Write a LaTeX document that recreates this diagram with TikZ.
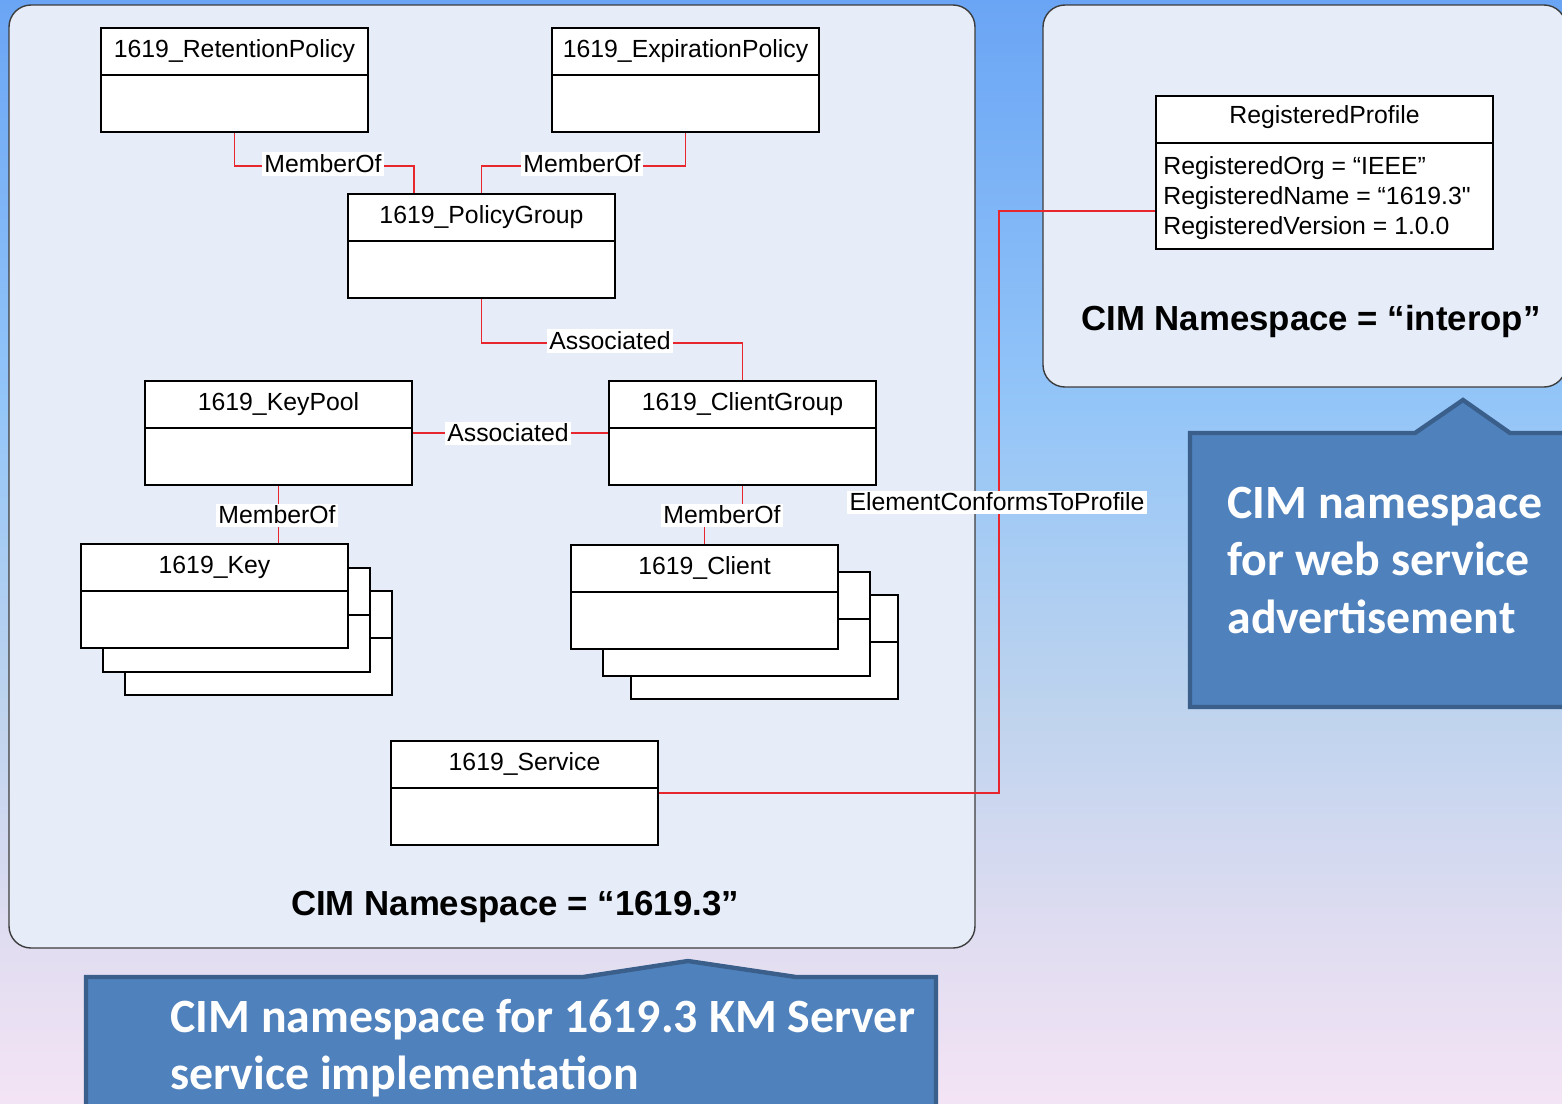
\documentclass[tikz,border=0pt]{standalone}
\usepackage{fontspec}
\setmainfont{Liberation Sans}[Ligatures=TeXOff]
\newfontfamily\callfont{Carlito}
\usetikzlibrary{calc}
\definecolor{bgA}{HTML}{6AA5F5}
\definecolor{bgB}{HTML}{93C5F8}
\definecolor{bgC}{HTML}{BDD3EE}
\definecolor{bgD}{HTML}{E2DDF1}
\definecolor{bgE}{HTML}{F4E4F5}
\definecolor{panelfill}{HTML}{E6EDF8}
\definecolor{panelline}{HTML}{3C3C3C}
\definecolor{callfill}{HTML}{4F81BD}
\definecolor{callline}{HTML}{3A5F8B}
\definecolor{linered}{HTML}{E8262E}
\tikzset{
 cls/.style={draw=black, line width=1pt, fill=white, inner sep=0pt, anchor=north west, minimum width=133.5pt, minimum height=52pt},
 ctitle/.style={font=\fontsize{12.4}{15}\selectfont, inner sep=0pt},
 attr/.style={font=\fontsize{12.4}{15}\selectfont, inner sep=0pt, anchor=base west},
 conn/.style={draw=linered, line width=0.6pt},
 lbl/.style={fill=white, inner sep=1.2pt, font=\fontsize{12.4}{15}\selectfont},
 panel/.style={fill=panelfill, draw=panelline, line width=0.7pt, rounded corners=11pt},
 callout/.style={fill=callfill, draw=callline, line width=2.2pt, line join=miter},
 calltext/.style={text=white, font=\callfont\bfseries\fontsize{23.9}{28.75}\selectfont, inner sep=0pt, anchor=base west},
 nstitle/.style={font=\bfseries\fontsize{17.4}{20}\selectfont, inner sep=0pt, anchor=base},
}
\newcommand\umlbox[4]{%
 \node[cls] (#1) at (#2,#3) {};
 \draw[line width=1pt] ([yshift=-24pt]#1.north west) -- ([yshift=-24pt]#1.north east);
 \node[ctitle] (#1-t) at ([yshift=-12pt]#1.north) {#4};
}
\begin{document}
\begin{tikzpicture}[x=0.5pt,y=-0.5pt]
\useasboundingbox (0,0) rectangle (1562,1103);
\clip (0,0) rectangle (1562,1103);
% background
\shade[top color=bgA, bottom color=bgB] (-2,-2) rectangle (1570,401);
\shade[top color=bgB, bottom color=bgC] (-2,400) rectangle (1570,701);
\shade[top color=bgC, bottom color=bgD] (-2,700) rectangle (1570,951);
\shade[top color=bgD, bottom color=bgE] (-2,950) rectangle (1570,1110);
% panels
\draw[panel] (9,5) rectangle (975,948);
\draw[panel] (1043,5) rectangle (1566,387);
% callouts
\draw[callout] (1190,433) -- (1415,433) -- (1463,400) -- (1510,433) -- (1590,433) -- (1590,707) -- (1190,707) -- cycle;
\draw[callout] (86,977) -- (583,977) -- (688,961) -- (796,977) -- (936,977) -- (936,1120) -- (86,1120) -- cycle;
\node[calltext] (ct1) at (1227,518) {CIM namespace};
\node[calltext] (ct2) at (1227,575) {for web service};
\node[calltext] (ct3) at (1227,633) {advertisement};
\node[calltext] (cb1) at (170,1032) {CIM namespace for 1619.3 KM Server};
\node[calltext] (cb2) at (170,1089) {service implementation};
% namespace titles
\node[nstitle] (ns1) at (515,915) {CIM Namespace = “1619.3”};
\node[nstitle] (ns2) at (1311,330) {CIM Namespace = “interop”};
% classes
\umlbox{ret}{100}{27}{1619\_RetentionPolicy}
\umlbox{exp}{551}{27}{1619\_ExpirationPolicy}
\umlbox{pg}{347}{193}{1619\_PolicyGroup}
\umlbox{kp}{144}{380}{1619\_KeyPool}
\umlbox{cg}{608}{380}{1619\_ClientGroup}
\umlbox{key3}{124}{590}{}
\umlbox{key2}{102}{567}{}
\umlbox{key}{80}{543}{1619\_Key}
\umlbox{cl3}{630}{594}{}
\umlbox{cl2}{602}{571}{}
\umlbox{cl}{570}{544}{1619\_Client}
\umlbox{svc}{390}{740}{1619\_Service}
% registered profile
\node[cls, minimum width=168.5pt, minimum height=76.5pt] (rp) at (1155,95) {};
\draw[line width=1pt] ([yshift=-24pt]rp.north west) -- ([yshift=-24pt]rp.north east);
\node[ctitle] (rp-t) at ([yshift=-11pt]rp.north) {RegisteredProfile};
\node[attr] (rpa1) at (1163,174) {RegisteredOrg = “IEEE”};
\node[attr] (rpa2) at (1163,204) {RegisteredName = “1619.3"};
\node[attr] (rpa3) at (1163,234) {RegisteredVersion = 1.0.0};
% connectors
\draw[conn] (ret.south) -- ++(0,33) -| ([xshift=33.5pt]pg.north west);
\draw[conn] (exp.south) -- ++(0,33) -| (pg.north);
\draw[conn] (pg.south) -- ++(0,44) -| (cg.north);
\draw[conn] (kp.east) -- (cg.west);
\draw[conn] (kp.south) -- (kp.south |- key.north);
\draw[conn] (cg.south) -- ++(0,31) -| (cl.north);
\draw[conn] (svc.east) -- ++(340,0) |- ([yshift=-19.25pt]rp.west);
% labels
\node[lbl] (l1) at (323,164) {MemberOf};
\node[lbl] (l2) at (582,164) {MemberOf};
\node[lbl] (l3) at (610,341) {Associated};
\node[lbl] (l4) at (508,433) {Associated};
\node[lbl] (l5) at (277,515) {MemberOf};
\node[lbl] (l6) at (722,515) {MemberOf};
\node[lbl] (l7) at (997,502) {ElementConformsToProfile};
\end{tikzpicture}
\end{document}
